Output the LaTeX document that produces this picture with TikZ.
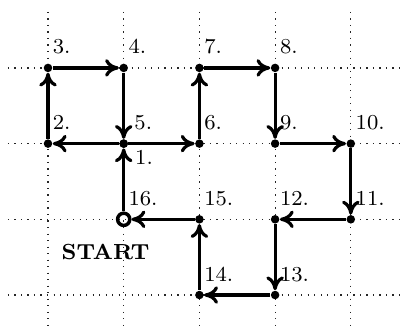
\documentclass[tikz,border=0pt]{standalone}
\usetikzlibrary{arrows.meta}
\begin{document}
\begin{tikzpicture}[
  pt/.style={circle,fill=black,inner sep=0pt,minimum size=3.2pt},
  startpt/.style={circle,draw=black,line width=1.3pt,inner sep=0pt,minimum size=4.6pt},
  lbl/.style={anchor=base west,inner sep=0pt,font=\fontsize{8}{9.6}\selectfont},
  arr/.style={-{Computer Modern Rightarrow[length=5.2pt,width=6.6pt]},line width=1.2pt},
  gridline/.style={dotted,line width=0.45pt,black!85}
]
\useasboundingbox (-0.634,-0.436) rectangle (4.716,3.897);
% grid
\foreach \x in {0,1,2,3,4} \draw[gridline] (\x,3.74) -- (\x,-0.5);
\foreach \y in {0,1,2,3} \draw[gridline] (-0.53,\y) -- (4.8,\y);
% points
\node[startpt] (s) at (1,1) {};
\node[pt] (n1) at (1,2) {};
\node[pt] (n2) at (0,2) {};
\node[pt] (n3) at (0,3) {};
\node[pt] (n4) at (1,3) {};
\node[pt] (n5) at (1,2) {};
\node[pt] (n6) at (2,2) {};
\node[pt] (n7) at (2,3) {};
\node[pt] (n8) at (3,3) {};
\node[pt] (n9) at (3,2) {};
\node[pt] (n10) at (4,2) {};
\node[pt] (n11) at (4,1) {};
\node[pt] (n12) at (3,1) {};
\node[pt] (n13) at (3,0) {};
\node[pt] (n14) at (2,0) {};
\node[pt] (n15) at (2,1) {};
% labels
\node[lbl] (l1) at (1.145,1.723) {1.};
\node[lbl] (l2) at (0.058,2.185) {2.};
\node[lbl] (l3) at (0.058,3.185) {3.};
\node[lbl] (l4) at (1.058,3.185) {4.};
\node[lbl] (l5) at (1.135,2.185) {5.};
\node[lbl] (l6) at (2.058,2.185) {6.};
\node[lbl] (l7) at (2.058,3.185) {7.};
\node[lbl] (l8) at (3.058,3.185) {8.};
\node[lbl] (l9) at (3.058,2.185) {9.};
\node[lbl] (l10) at (4.058,2.185) {10.};
\node[lbl] (l11) at (4.058,1.185) {11.};
\node[lbl] (l12) at (3.058,1.185) {12.};
\node[lbl] (l13) at (3.058,0.185) {13.};
\node[lbl] (l14) at (2.058,0.185) {14.};
\node[lbl] (l15) at (2.058,1.185) {15.};
\node[lbl] (l16) at (1.058,1.185) {16.};
\node[anchor=base,inner sep=0pt,font=\fontsize{8.2}{9.8}\selectfont\bfseries] (st) at (0.76,0.47) {START};
% path
\draw[arr] (s) -- (n1);
\draw[arr] (n1) -- (n2);
\draw[arr] (n2) -- (n3);
\draw[arr] (n3) -- (n4);
\draw[arr] (n4) -- (n5);
\draw[arr] (n5) -- (n6);
\draw[arr] (n6) -- (n7);
\draw[arr] (n7) -- (n8);
\draw[arr] (n8) -- (n9);
\draw[arr] (n9) -- (n10);
\draw[arr] (n10) -- (n11);
\draw[arr] (n11) -- (n12);
\draw[arr] (n12) -- (n13);
\draw[arr] (n13) -- (n14);
\draw[arr] (n14) -- (n15);
\draw[arr] (n15) -- (s);
\end{tikzpicture}
\end{document}
